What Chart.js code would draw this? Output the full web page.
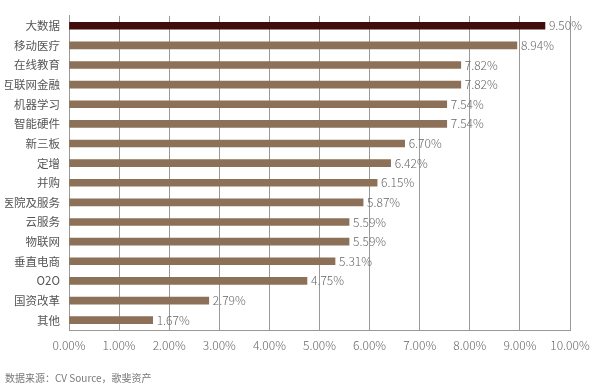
<!DOCTYPE html>
<html>
<head>
<meta charset="utf-8">
<script src="https://cdn.jsdelivr.net/npm/chart.js@4"></script>
<style>
  html, body { margin: 0; padding: 0; background: #fff; }
  #wrap { width: 593px; height: 388px; }
</style>
</head>
<body>
<div id="wrap"><canvas id="industry"></canvas></div>
<script>
var categories = ['大数据', '移动医疗', '在线教育', '互联网金融', '机器学习', '智能硬件', '新三板', '定增',
    '并购', '医院及服务', '云服务', '物联网', '垂直电商', 'O2O', '国资改革', '其他'];
var shares = [9.50, 8.94, 7.82, 7.82, 7.54, 7.54, 6.70, 6.42, 6.15, 5.87, 5.59, 5.59, 5.31, 4.75, 2.79, 1.67];
var xTicks = [0, 1, 2, 3, 4, 5, 6, 7, 8, 9, 10];
var source = '数据来源：CV Source，歌斐资产';

var font = '"Noto Sans CJK SC", "Noto Sans", sans-serif';
var barColors = shares.map(function (v, i) { return i === 0 ? '#3f0e0c' : '#8c7158'; });

// value labels after each bar
var valueLabels = {
    id: 'valueLabels',
    afterDatasetsDraw: function (chart) {
        var ctx = chart.ctx;
        var meta = chart.getDatasetMeta(0);
        ctx.save();
        ctx.font = '300 12px ' + font;
        ctx.fillStyle = '#666';
        ctx.textAlign = 'left';
        ctx.textBaseline = 'middle';
        meta.data.forEach(function (bar, i) {
            ctx.fillText(shares[i].toFixed(2) + '%', bar.x + 4, bar.y);
        });
        ctx.restore();
    }
};

var ctx = document.getElementById('industry');
var myChart = new Chart(ctx, {
    type: 'bar',
    data: {
        labels: categories,
        datasets: [{
            label: 'share',
            data: shares,
            backgroundColor: barColors,
            barThickness: 7
        }]
    },
    options: {
        indexAxis: 'y',
        responsive: true,
        maintainAspectRatio: false,
        animation: false,
        layout: { padding: { left: 5, right: 0, top: 13, bottom: 0 } },
        plugins: {
            legend: { display: false },
            tooltip: { enabled: false },
            title: {
                display: true,
                text: source,
                position: 'bottom',
                align: 'start',
                color: '#777',
                font: { family: font, size: 10, weight: 'normal' },
                padding: { top: 12, bottom: 4 }
            }
        },
        scales: {
            x: {
                min: 0,
                max: 10,
                afterBuildTicks: function (scale) {
                    scale.ticks = xTicks.map(function (v) { return { value: v }; });
                },
                afterFit: function (scale) {
                    scale.height = 30;
                    scale.paddingRight = 23;
                },
                grid: { color: '#999', drawTicks: false },
                border: { color: '#999' },
                ticks: {
                    padding: 8,
                    color: '#666',
                    font: { family: font, size: 12, weight: '300' },
                    callback: function (v) { return v.toFixed(2) + '%'; }
                }
            },
            y: {
                afterFit: function (scale) { scale.width = 64; },
                grid: { display: false, drawTicks: false },
                border: { color: '#999' },
                ticks: {
                    padding: 9,
                    color: '#555',
                    font: { family: font, size: 11.5 }
                }
            }
        }
    },
    plugins: [valueLabels]
});
</script>
</body>
</html>
